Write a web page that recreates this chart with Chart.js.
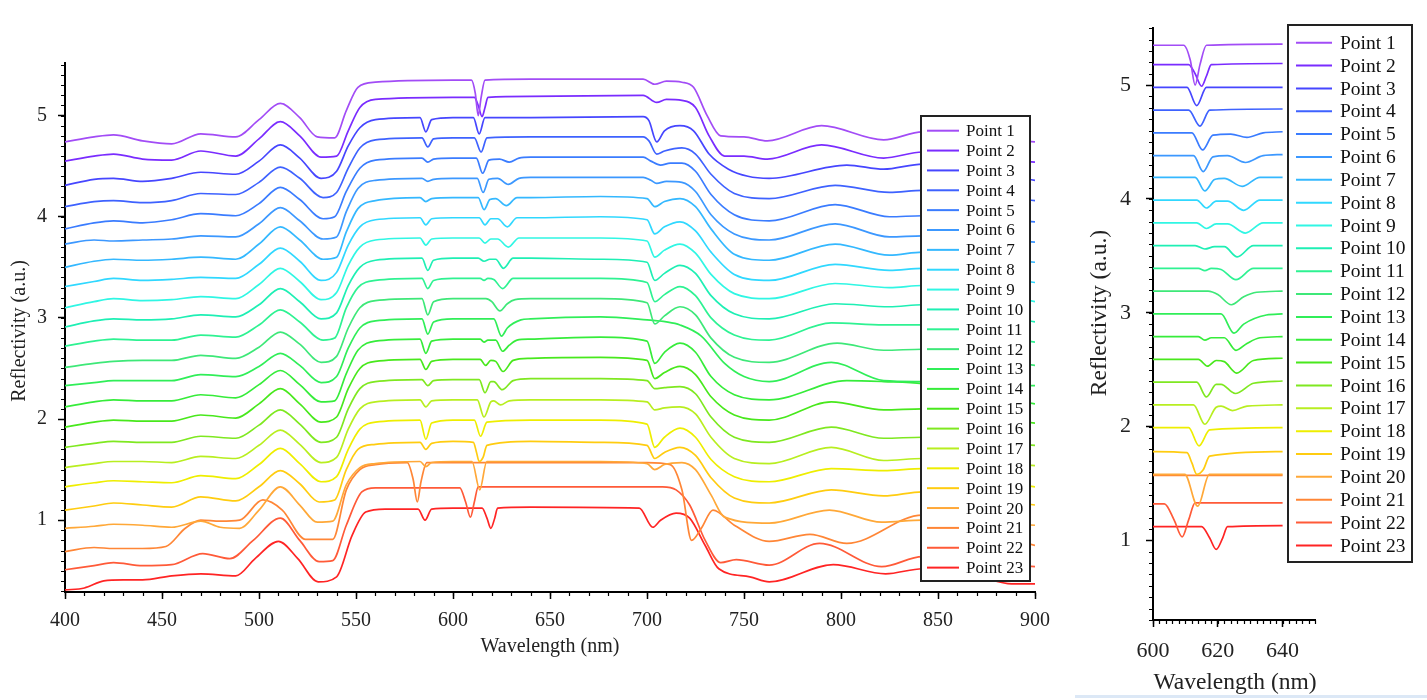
<!DOCTYPE html>
<html>
<head>
<meta charset="utf-8">
<script src="https://cdn.jsdelivr.net/npm/chart.js@4.4.1/dist/chart.umd.min.js"></script>
<style>
  html, body { margin: 0; padding: 0; background: #fff; width: 1427px; height: 700px; overflow: hidden; }
  #wide { position: absolute; left: 0; top: 0; }
  #zoom { position: absolute; left: 1070px; top: 0; }
  .strip { position: absolute; left: 1075px; top: 695px; width: 352px; height: 3px; background: #dce8f6; }
</style>
</head>
<body>
<canvas id="wide" width="1070" height="700"></canvas>
<canvas id="zoom" width="357" height="700"></canvas>
<div class="strip"></div>
<script>
// spectra: [wavelength nm, reflectivity a.u.]
const point1 = [[400,4.74],[415,4.79],[425,4.81],[440,4.75],[455,4.72],[470,4.82],[488,4.79],[500,4.96],[511,5.12],[521,4.98],[530,4.79],[539,4.78],[545,5.05],[551,5.28],[560,5.33],[600,5.35],[609.5,5.35],[611.5,5.22],[613,5.0],[614.5,5.18],[616.5,5.35],[640,5.36],[698,5.36],[704,5.31],[710,5.34],[718,5.33],[724,5.28],[731,5.0],[738,4.80],[750,4.79],[762,4.75],[790,4.90],[822,4.76],[842,4.84],[870,4.80],[900,4.74]];
const point2 = [[400,4.55],[415,4.60],[425,4.62],[440,4.57],[455,4.56],[470,4.65],[488,4.60],[500,4.77],[511,4.94],[521,4.80],[532,4.59],[540,4.60],[546,4.85],[552,5.08],[560,5.16],[600,5.18],[611,5.18],[613,5.10],[615,4.99],[616.5,5.08],[618,5.18],[640,5.19],[698,5.20],[705,5.13],[710,5.16],[718,5.15],[725,5.08],[732,4.80],[740,4.60],[750,4.60],[762,4.57],[790,4.71],[822,4.58],[842,4.64],[870,4.60],[900,4.54]];
const point3 = [[400,4.31],[415,4.37],[425,4.38],[440,4.35],[455,4.38],[470,4.44],[488,4.42],[500,4.55],[511,4.71],[521,4.58],[532,4.38],[540,4.45],[546,4.70],[552,4.88],[560,4.96],[583,4.98],[586,4.84],[589,4.96],[600,4.98],[610.5,4.98],[613.5,4.82],[616.5,4.98],[640,4.98],[698,4.99],[701,4.95],[705,4.74],[709,4.85],[717,4.90],[724,4.85],[732,4.62],[742,4.47],[752,4.40],[763,4.38],[803,4.51],[822,4.47],[842,4.52],[870,4.45],[900,4.36]];
const point4 = [[400,4.10],[415,4.15],[425,4.16],[440,4.14],[455,4.16],[470,4.23],[488,4.22],[500,4.34],[511,4.49],[521,4.38],[533,4.19],[540,4.24],[546,4.48],[552,4.68],[560,4.76],[584,4.78],[587,4.69],[590,4.77],[600,4.78],[611,4.78],[614.5,4.64],[617.5,4.78],[640,4.79],[698,4.79],[701,4.75],[705,4.62],[709,4.65],[718,4.68],[725,4.62],[733,4.42],[745,4.23],[763,4.18],[797,4.31],[825,4.24],[842,4.26],[870,4.22],[900,4.16]];
const point5 = [[400,3.88],[415,3.94],[425,3.96],[440,3.94],[455,3.97],[470,4.03],[488,4.01],[500,4.13],[511,4.29],[521,4.17],[533,3.98],[539,4.00],[545,4.25],[552,4.48],[560,4.56],[584,4.58],[587,4.54],[590,4.57],[600,4.58],[612,4.58],[615.3,4.43],[618.5,4.56],[624,4.57],[629,4.54],[634,4.58],[640,4.59],[698,4.59],[702,4.55],[707,4.51],[712,4.53],[718,4.53],[725,4.45],[733,4.22],[745,4.02],[763,3.96],[797,4.12],[825,4.00],[842,4.01],[870,3.99],[900,3.95]];
const point6 = [[400,3.73],[415,3.77],[425,3.76],[440,3.77],[455,3.78],[470,3.81],[488,3.80],[500,3.93],[511,4.09],[521,3.96],[533,3.78],[540,3.80],[545,4.05],[551,4.28],[560,4.36],[584,4.38],[587,4.35],[590,4.37],[600,4.38],[612.5,4.38],[615.5,4.24],[618.5,4.37],[623,4.38],[628.5,4.32],[634,4.38],[640,4.39],[698,4.39],[702,4.36],[705,4.33],[710,4.35],[718,4.34],[725,4.25],[733,4.02],[745,3.83],[763,3.77],[797,3.93],[825,3.80],[842,3.81],[870,3.79],[900,3.75]];
const point7 = [[400,3.50],[415,3.56],[425,3.58],[440,3.57],[455,3.58],[470,3.60],[488,3.58],[500,3.73],[511,3.90],[521,3.77],[533,3.58],[540,3.60],[545,3.85],[551,4.08],[560,4.16],[583,4.19],[586,4.15],[589,4.18],[600,4.19],[613,4.19],[616,4.07],[619,4.17],[622,4.18],[627.5,4.11],[633,4.19],[640,4.19],[676,4.20],[700,4.18],[704,4.10],[709,4.15],[717,4.18],[725,4.10],[733,3.88],[745,3.63],[763,3.57],[797,3.73],[825,3.62],[842,3.65],[870,3.60],[900,3.55]];
const point8 = [[400,3.31],[415,3.36],[425,3.39],[440,3.37],[455,3.38],[470,3.40],[488,3.39],[500,3.53],[511,3.69],[521,3.56],[532,3.37],[540,3.45],[546,3.72],[552,3.90],[560,3.97],[583,3.99],[586,3.92],[589,3.98],[600,3.99],[613.5,3.99],[616.5,3.92],[619.5,3.98],[623,3.98],[628,3.90],[633,3.99],[640,3.99],[676,4.00],[700,3.97],[704,3.83],[709,3.90],[717,3.95],[725,3.86],[733,3.65],[745,3.43],[763,3.37],[797,3.53],[825,3.47],[842,3.49],[870,3.43],[900,3.35]];
const point9 = [[400,3.10],[415,3.16],[425,3.19],[440,3.17],[455,3.18],[470,3.21],[488,3.19],[500,3.33],[511,3.49],[521,3.36],[532,3.18],[540,3.25],[546,3.52],[552,3.70],[560,3.77],[583,3.79],[586,3.72],[589,3.78],[600,3.79],[613.5,3.79],[616.5,3.74],[619.5,3.78],[623,3.78],[628.5,3.70],[634,3.79],[640,3.79],[676,3.79],[700,3.76],[704,3.60],[709,3.67],[717,3.73],[725,3.64],[733,3.43],[745,3.24],[763,3.19],[797,3.34],[825,3.30],[842,3.32],[870,3.26],[900,3.16]];
const point10 = [[400,2.91],[415,2.97],[425,2.99],[440,2.98],[455,2.99],[470,3.03],[488,3.01],[500,3.13],[511,3.29],[521,3.16],[532,2.99],[540,3.05],[546,3.32],[552,3.50],[560,3.57],[584,3.59],[587,3.47],[590,3.57],[600,3.59],[613,3.59],[616,3.56],[619,3.58],[622,3.58],[626,3.49],[631,3.59],[640,3.59],[676,3.58],[700,3.55],[704,3.37],[709,3.44],[717,3.52],[725,3.44],[733,3.22],[745,3.04],[763,2.99],[797,3.14],[825,3.11],[842,3.13],[870,3.06],[900,2.96]];
const point11 = [[400,2.72],[415,2.77],[425,2.79],[440,2.78],[455,2.78],[470,2.83],[488,2.81],[500,2.93],[511,3.08],[521,2.96],[533,2.78],[539,2.80],[545,3.10],[551,3.30],[560,3.37],[584,3.39],[587,3.29],[590,3.37],[600,3.39],[614,3.39],[616,3.37],[618,3.39],[621,3.38],[625.6,3.29],[631,3.39],[640,3.39],[676,3.39],[700,3.35],[704,3.16],[709,3.23],[717,3.31],[725,3.22],[733,3.00],[745,2.83],[763,2.78],[795,2.95],[822,2.93],[842,2.93],[870,2.85],[900,2.76]];
const point12 = [[400,2.51],[415,2.55],[425,2.57],[440,2.58],[455,2.58],[470,2.63],[488,2.60],[500,2.71],[511,2.86],[521,2.74],[532,2.56],[540,2.62],[546,2.90],[552,3.10],[560,3.17],[584,3.19],[587,3.03],[590,3.16],[600,3.19],[617,3.19],[620,3.16],[624.2,3.07],[628,3.14],[632,3.18],[640,3.19],[676,3.19],[700,3.15],[704,2.94],[709,3.02],[717,3.11],[725,3.03],[733,2.80],[745,2.61],[763,2.56],[798,2.75],[822,2.68],[842,2.69],[870,2.62],[900,2.53]];
const point13 = [[400,2.33],[415,2.36],[425,2.38],[440,2.38],[455,2.38],[470,2.44],[488,2.42],[500,2.52],[511,2.65],[521,2.53],[532,2.36],[540,2.42],[546,2.70],[552,2.90],[560,2.97],[584,2.99],[587,2.84],[590,2.96],[600,2.99],[621,2.99],[625,2.82],[628,2.90],[635,2.98],[640,2.99],[676,3.01],[700,2.98],[710,2.96],[717,2.93],[728,2.82],[740,2.55],[750,2.42],[763,2.37],[795,2.56],[822,2.38],[842,2.37],[870,2.36],[900,2.33]];
const point14 = [[400,2.12],[415,2.17],[425,2.19],[440,2.18],[455,2.18],[470,2.24],[488,2.21],[500,2.34],[511,2.48],[521,2.34],[532,2.17],[539,2.18],[545,2.45],[551,2.68],[560,2.77],[583,2.79],[586,2.65],[589,2.77],[600,2.79],[614,2.79],[616,2.76],[618,2.78],[622,2.78],[625.6,2.67],[629,2.73],[633,2.78],[640,2.79],[676,2.81],[700,2.77],[704,2.55],[709,2.66],[717,2.75],[725,2.66],[733,2.42],[745,2.24],[763,2.19],[803,2.38],[822,2.37],[842,2.35],[870,2.25],[900,2.15]];
const point15 = [[400,1.92],[415,1.97],[425,1.99],[440,1.98],[455,1.98],[470,2.04],[488,2.01],[500,2.15],[511,2.30],[521,2.15],[532,1.97],[540,2.02],[546,2.30],[552,2.50],[560,2.57],[583,2.59],[586,2.49],[589,2.57],[600,2.59],[614,2.59],[616.8,2.53],[619.5,2.58],[622,2.57],[625.8,2.47],[631,2.58],[640,2.60],[676,2.61],[700,2.58],[704,2.40],[709,2.46],[717,2.52],[725,2.44],[733,2.22],[745,2.04],[763,1.99],[795,2.17],[822,2.09],[842,2.10],[870,2.03],[900,1.96]];
const point16 = [[400,1.72],[415,1.76],[425,1.78],[440,1.77],[455,1.77],[470,1.83],[488,1.81],[500,1.94],[511,2.09],[521,1.95],[532,1.77],[540,1.82],[546,2.10],[552,2.30],[560,2.37],[584,2.39],[587,2.33],[590,2.38],[600,2.39],[613.5,2.39],[616.5,2.26],[619.5,2.37],[621,2.37],[625.4,2.29],[631,2.38],[640,2.40],[676,2.40],[700,2.38],[704,2.30],[709,2.31],[717,2.32],[725,2.25],[733,2.02],[745,1.82],[763,1.77],[795,1.92],[822,1.81],[842,1.82],[870,1.79],[900,1.74]];
const point17 = [[400,1.52],[415,1.56],[425,1.58],[440,1.58],[455,1.57],[470,1.63],[488,1.61],[500,1.74],[511,1.89],[521,1.75],[532,1.57],[540,1.62],[546,1.90],[552,2.10],[560,2.17],[583,2.19],[586,2.12],[589,2.18],[600,2.19],[612.5,2.19],[616,2.02],[619.5,2.17],[621,2.18],[624.5,2.14],[629,2.18],[640,2.19],[676,2.19],[700,2.17],[704,2.09],[709,2.11],[717,2.12],[725,2.05],[733,1.82],[745,1.61],[763,1.56],[795,1.72],[822,1.59],[842,1.61],[870,1.58],[900,1.54]];
const point18 = [[400,1.33],[415,1.37],[425,1.39],[440,1.38],[455,1.37],[470,1.44],[488,1.41],[500,1.55],[511,1.71],[521,1.56],[532,1.38],[540,1.43],[546,1.70],[552,1.90],[560,1.97],[583,1.99],[586,1.80],[589,1.96],[600,1.99],[611,1.99],[614.2,1.83],[617.5,1.97],[640,1.99],[676,1.99],[700,1.95],[704,1.72],[709,1.82],[717,1.91],[725,1.82],[733,1.60],[745,1.43],[763,1.38],[795,1.51],[822,1.49],[842,1.51],[870,1.42],[900,1.33]];
const point19 = [[400,1.10],[415,1.14],[425,1.17],[440,1.15],[455,1.13],[470,1.23],[488,1.19],[500,1.33],[511,1.49],[521,1.36],[531,1.18],[539,1.20],[545,1.50],[551,1.70],[560,1.75],[583,1.77],[586,1.70],[589,1.76],[600,1.78],[610.5,1.77],[612,1.68],[613.5,1.58],[615.5,1.62],[617.5,1.74],[640,1.78],[676,1.77],[700,1.74],[704,1.61],[709,1.67],[717,1.72],[725,1.64],[733,1.42],[745,1.22],[763,1.17],[795,1.30],[822,1.24],[842,1.28],[870,1.22],[900,1.15]];
const point20 = [[400,0.92],[415,0.94],[425,0.96],[440,0.95],[455,0.93],[470,0.99],[480,0.93],[490,0.92],[500,1.10],[511,1.33],[521,1.15],[530,0.98],[538,0.99],[545,1.35],[552,1.52],[560,1.56],[583,1.58],[586,1.53],[589,1.57],[600,1.58],[609.8,1.58],[613.8,1.30],[617.4,1.58],[640,1.58],[676,1.58],[700,1.56],[704,1.50],[709,1.55],[718,1.57],[725,1.50],[733,1.25],[740,1.03],[763,0.97],[794,1.10],[821,0.98],[842,1.00],[870,0.98],[900,0.95]];
const point21 = [[400,0.69],[415,0.73],[425,0.72],[440,0.72],[452,0.74],[462,0.92],[470,1.00],[480,0.99],[490,1.00],[502,1.20],[512,1.10],[524,0.81],[538,0.81],[545,1.30],[552,1.50],[560,1.55],[576.5,1.57],[579.5,1.40],[581.6,1.18],[583.5,1.38],[586.5,1.57],[600,1.57],[640,1.57],[700,1.57],[712,1.55],[718,1.30],[723,0.80],[728,0.92],[734,1.10],[745,0.95],[763,0.79],[784,0.86],[803,0.77],[842,1.05],[870,0.90],[900,0.75]];
const point22 = [[400,0.51],[415,0.55],[425,0.58],[440,0.55],[455,0.56],[471,0.67],[485,0.62],[497,0.80],[511,1.02],[521,0.80],[531,0.59],[538,0.60],[545,0.95],[553,1.28],[560,1.32],[600,1.32],[603.5,1.32],[606.5,1.18],[609,1.03],[611,1.18],[613,1.33],[640,1.33],[708,1.33],[715,1.30],[722,1.15],[730,0.80],[738,0.58],[746,0.61],[763,0.555],[789,0.77],[821,0.54],[842,0.64],[870,0.60],[900,0.54]];
const point23 = [[400,0.31],[410,0.33],[420,0.40],[430,0.41],[440,0.41],[455,0.45],[470,0.47],[488,0.45],[498,0.62],[510,0.79],[520,0.62],[530.5,0.39],[540,0.44],[548,0.85],[555,1.08],[565,1.11],[582,1.11],[585.6,1.00],[589,1.11],[600,1.12],[615,1.12],[617.5,1.02],[619.5,0.92],[621.5,1.02],[623,1.12],[640,1.13],[696,1.12],[703,0.93],[707,1.00],[715,1.07],[722,1.02],[730,0.75],[737,0.52],[753,0.44],[763,0.39],[796,0.56],[823,0.47],[842,0.52],[870,0.45],[888,0.37],[900,0.37]];

const pointNames = ['Point 1','Point 2','Point 3','Point 4','Point 5','Point 6','Point 7','Point 8','Point 9','Point 10','Point 11','Point 12','Point 13','Point 14','Point 15','Point 16','Point 17','Point 18','Point 19','Point 20','Point 21','Point 22','Point 23'];
const wideXTicks = [400, 450, 500, 550, 600, 650, 700, 750, 800, 850, 900];
const zoomXTicks = [600, 620, 640];
const yTicks = [1, 2, 3, 4, 5];

const series = [point1, point2, point3, point4, point5, point6, point7, point8, point9, point10, point11, point12,
  point13, point14, point15, point16, point17, point18, point19, point20, point21, point22, point23];

const colours = ['#a24cf6', '#7a2cff', '#4646ff', '#3e62ff', '#3a7cff', '#3c98ff', '#34b8ff', '#30d8ff', '#30f6e4', '#1eefb4',
  '#2ef292', '#3ee878', '#30ee58', '#36ec3a', '#48e81c', '#7fe820', '#b8ee20', '#eeee00', '#ffcc10', '#ffa838',
  '#ff8636', '#ff5a38', '#ff2424'];

const SERIF = '"Liberation Serif", "DejaVu Serif", serif';

function makeSets(lo, hi) {
  return series.map((s, i) => ({
    label: pointNames[i],
    data: s.filter(p => p[0] >= lo && p[0] <= hi),
    borderColor: colours[i],
    borderWidth: 1.7,
    pointRadius: 0,
    cubicInterpolationMode: 'monotone',
    fill: false
  }));
}

// minor ticks, axis titles and the boxed legend
const decor = {
  id: 'decor',
  afterDatasetsDraw(chart, args, o) {
    const ctx = chart.ctx, L = o.legend;
    ctx.save();
    ctx.fillStyle = '#fff';
    ctx.fillRect(L.x, L.y, L.w, L.h);
    ctx.strokeStyle = '#222';
    ctx.lineWidth = 2;
    ctx.strokeRect(L.x, L.y, L.w, L.h);
    ctx.font = L.size + 'px ' + SERIF;
    ctx.textBaseline = 'middle';
    chart.data.datasets.forEach((d, i) => {
      const cy = L.first + i * L.gap;
      ctx.strokeStyle = d.borderColor;
      ctx.lineWidth = 2;
      ctx.beginPath(); ctx.moveTo(L.s0, cy); ctx.lineTo(L.s1, cy); ctx.stroke();
      ctx.fillStyle = '#111';
      ctx.fillText(d.label, L.tx, cy + 1);
    });
    ctx.restore();
  },
  afterDraw(chart, args, o) {
    const ctx = chart.ctx, x = chart.scales.x, y = chart.scales.y;
    ctx.save();
    ctx.strokeStyle = '#000';
    ctx.lineWidth = 1.2;
    ctx.beginPath();
    for (let i = Math.ceil(x.min / o.xMinor - 1e-6); i <= Math.floor(x.max / o.xMinor + 1e-6); i++) {
      const px = Math.round(x.getPixelForValue(i * o.xMinor)) + 0.5;
      ctx.moveTo(px, y.bottom); ctx.lineTo(px, y.bottom + 4);
    }
    for (let i = Math.ceil(y.min / o.yMinor - 1e-6); i <= Math.floor(y.max / o.yMinor + 1e-6); i++) {
      const py = Math.round(y.getPixelForValue(i * o.yMinor)) + 0.5;
      ctx.moveTo(x.left, py); ctx.lineTo(x.left - 4, py);
    }
    ctx.stroke();

    ctx.fillStyle = '#222';
    ctx.font = o.titleSize + 'px ' + SERIF;
    ctx.textAlign = 'center';
    ctx.textBaseline = 'middle';
    ctx.fillText('Wavelength (nm)', o.xTitle[0], o.xTitle[1]);
    ctx.translate(o.yTitle[0], o.yTitle[1]);
    ctx.rotate(-Math.PI / 2);
    ctx.fillText('Reflectivity (a.u.)', 0, 0);
    ctx.restore();
  }
};

function buildChart(id, o) {
  const axis = (ticks, extra) => Object.assign({
    type: 'linear',
    afterBuildTicks: s => { s.ticks = ticks.map(v => ({ value: v })); },
    ticks: { font: { family: SERIF, size: o.tickSize }, color: '#222', autoSkip: false, maxRotation: 0, callback: v => String(v) },
    grid: { drawOnChartArea: false, tickLength: 7, tickColor: '#000', tickWidth: 1.5 },
    border: { color: '#000', width: 2 }
  }, extra);

  const x = axis(o.xTicks, { min: o.xMin, max: o.xMax, afterFit: s => { s.height = o.xH; } });
  x.ticks.padding = o.xPad;
  const y = axis(yTicks, { min: o.yMin, max: o.yMax, afterFit: s => { s.width = o.yW; } });
  y.ticks.padding = o.yPad;

  return new Chart(document.getElementById(id), {
    type: 'line',
    data: { datasets: makeSets(o.xMin, o.dataMax) },
    options: {
      responsive: false,
      animation: false,
      devicePixelRatio: 1,
      parsing: true,
      layout: { padding: o.pad },
      plugins: {
        legend: { display: false },
        tooltip: { enabled: false },
        decor: o.decor
      },
      scales: { x, y }
    },
    plugins: [decor]
  });
}

buildChart('wide', {
  xMin: 400, xMax: 900, dataMax: 900, yMin: 0.29, yMax: 5.52,
  xTicks: wideXTicks, tickSize: 20, xPad: 10, yPad: 11, xH: 108, yW: 65,
  pad: { top: 63, right: 35, left: 0, bottom: 0 },
  decor: {
    xMinor: 10, yMinor: 0.1, titleSize: 20, xTitle: [550, 647], yTitle: [20, 331],
    legend: { x: 921, y: 116, w: 109, h: 465, first: 130.7, gap: 19.86, s0: 927, s1: 959, tx: 966, size: 17 }
  }
});

buildChart('zoom', {
  xMin: 600, xMax: 650, dataMax: 640, yMin: 0.3, yMax: 5.5,
  xTicks: zoomXTicks, tickSize: 22, xPad: 11, yPad: 15, xH: 80, yW: 83,
  pad: { top: 13, right: 112, left: 0, bottom: 0 },
  decor: {
    xMinor: 2, yMinor: 0.1, titleSize: 23.5, xTitle: [165, 683], yTitle: [30, 313],
    legend: { x: 218, y: 25, w: 124, h: 537, first: 42.7, gap: 22.85, s0: 226, s1: 262, tx: 270, size: 19.5 }
  }
});
</script>
</body>
</html>
